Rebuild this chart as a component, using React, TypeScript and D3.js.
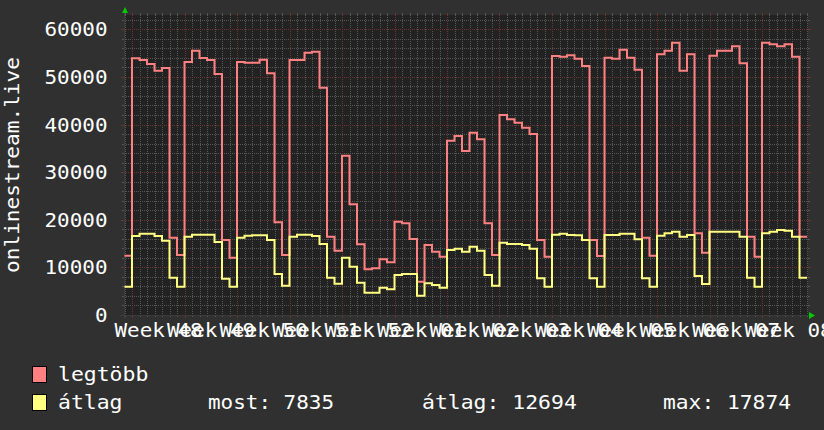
import React from "react";
import * as d3 from "d3";

// daily values, starting Sunday 2022-11-27 (day -1) through Sunday 2023-02-26
const maxValues = [
  12450,
  53900, 53550, 52700, 51310, 51870, 16240, 12600,
  53130, 55510, 53970, 53550, 50610, 15750, 12040,
  53130, 52990, 52990, 53620, 50750, 19460, 12600,
  53550, 53550, 55090, 55300, 47740, 16450, 13510,
  33460, 23240, 14840, 9590, 9800, 11690, 11060,
  19600, 19250, 15960, 7000, 14700, 13300, 12250,
  36610, 37590, 34440, 38290, 36890, 19250, 12600,
  42000, 41090, 40390, 39340, 38010, 15750, 12250,
  54390, 54250, 54530, 53830, 52290, 15750, 12390,
  54040, 53830, 55720, 54040, 51520, 16240, 12460,
  54740, 55510, 57190, 51310, 54740, 17150, 13090,
  54460, 55510, 55510, 56420, 52850, 16450, 12250,
  57190, 56840, 56420, 56840, 54250, 16450,
];
const avgValues = [
  5950,
  16590, 17080, 17080, 16590, 15610, 7840, 5950,
  16450, 16870, 16870, 16870, 15330, 7630, 5950,
  16240, 16660, 16730, 16730, 15750, 8610, 6160,
  16450, 16870, 16870, 16590, 14910, 7840, 6580,
  12040, 10150, 6790, 4690, 4690, 5740, 5390,
  8400, 8610, 8610, 4060, 6650, 6300, 5740,
  13650, 13930, 13300, 14350, 13510, 8400, 6160,
  15190, 14910, 14910, 14700, 13930, 7700, 5950,
  16870, 17080, 16800, 16730, 15750, 7700, 5950,
  16800, 16800, 17080, 17080, 15890, 7700, 5950,
  16660, 17150, 17500, 16450, 16800, 8190, 6510,
  17500, 17500, 17500, 17500, 16450, 7840, 5950,
  17150, 17500, 17874, 17710, 16450, 7835,
];
const yTicks = [0, 10000, 20000, 30000, 40000, 50000, 60000];
const yTickLabels = ["0", "10000", "20000", "30000", "40000", "50000", "60000"];
const weekLabels = [
  "Week 48", "Week 49", "Week 50", "Week 51", "Week 52", "Week 01", "Week 02",
  "Week 03", "Week 04", "Week 05", "Week 06", "Week 07", "Week 08",
];
const seriesNames = ["legtöbb", "átlag"];
const gprintLabels = ["most: 7835", "átlag: 12694", "max: 17874"];

const W = 824, H = 430;
const L = 124, R = 808, T = 15, B = 315;
const DAY = 86400000;
const MON = Date.UTC(2022, 10, 28);
const START = new Date(MON - (8 / 7.5) * DAY);
const END = new Date(MON + (676 / 7.5) * DAY);

const FONT = "'DejaVu Sans Mono', monospace";
const FS = 19.5;

export default function App() {
  const x = d3.scaleUtc().domain([START, END]).range([L, R]);
  const y = d3.scaleLinear().domain([0, 63000]).range([B, T]);

  const mk = (vals: number[]) => {
    const pts: [Date, number][] = vals.map((v, i) => [new Date(MON + (i - 1) * DAY), v]);
    pts.push([new Date(MON + (vals.length - 1) * DAY), vals[vals.length - 1]]);
    return pts;
  };
  const line = d3
    .line<[Date, number]>()
    .x((d) => x(d[0]))
    .y((d) => y(d[1]))
    .curve(d3.curveStepAfter);

  const dayLines = d3.utcDay.range(d3.utcDay.ceil(START), END);
  const weekLines = d3.utcMonday.range(d3.utcMonday.ceil(START), END);
  const minorY = d3.range(0, 63000, 2000).filter((v) => v % 10000 !== 0);

  const px = (v: number) => Math.round(v) + 0.5;
  const minorCol = "#565656";
  const majorCol = "#6e3434";

  const txt = (s: string, tx: number, ty: number, cw: number, key: string) => (
    <text
      key={key}
      x={tx}
      y={ty}
      fill="#ffffff"
      fontFamily={FONT}
      fontSize={FS}
      textLength={s.length * cw}
      lengthAdjust="spacingAndGlyphs"
    >
      {s}
    </text>
  );

  return (
    <svg
      width={W}
      height={H}
      style={{ position: "absolute", left: 0, top: 0, display: "block" }}
    >
      <defs>
        <clipPath id="plotclip">
          <rect x={L} y={T - 2} width={R - L} height={B - T + 3} />
        </clipPath>
      </defs>
      <rect x={0} y={0} width={W} height={H} fill="#303030" />
      <rect x={L} y={T} width={R - L} height={B - T} fill="#222222" />

      {/* minor grid */}
      {dayLines.map((d, i) => (
        <g key={"dv" + i}>
          <line x1={px(x(d))} x2={px(x(d))} y1={T} y2={B} stroke={minorCol} strokeDasharray="1,1" />
          <line x1={px(x(d))} x2={px(x(d))} y1={T - 2} y2={T} stroke={minorCol} />
          <line x1={px(x(d))} x2={px(x(d))} y1={B} y2={B + 2} stroke={minorCol} />
        </g>
      ))}
      {minorY.map((v, i) => (
        <g key={"hv" + i}>
          <line x1={L} x2={R} y1={px(y(v))} y2={px(y(v))} stroke={minorCol} strokeDasharray="1,1" />
          <line x1={L - 2} x2={L} y1={px(y(v))} y2={px(y(v))} stroke={minorCol} />
          <line x1={R} x2={R + 2} y1={px(y(v))} y2={px(y(v))} stroke={minorCol} />
        </g>
      ))}
      {/* major grid */}
      {weekLines.map((d, i) => (
        <g key={"wv" + i}>
          <line x1={px(x(d))} x2={px(x(d))} y1={T} y2={B} stroke={majorCol} strokeDasharray="1,1" />
          <line x1={px(x(d))} x2={px(x(d))} y1={T - 2} y2={T} stroke={majorCol} />
          <line x1={px(x(d))} x2={px(x(d))} y1={B} y2={B + 3} stroke={majorCol} />
        </g>
      ))}
      {yTicks.map((v, i) =>
        v === 0 ? null : (
          <g key={"mh" + i}>
            <line x1={L} x2={R} y1={px(y(v))} y2={px(y(v))} stroke={majorCol} strokeDasharray="1,1" />
            <line x1={L - 3} x2={L} y1={px(y(v))} y2={px(y(v))} stroke={majorCol} />
            <line x1={R} x2={R + 3} y1={px(y(v))} y2={px(y(v))} stroke={majorCol} />
          </g>
        )
      )}

      {/* axes */}
      <line x1={L - 4} x2={R + 4} y1={B + 0.5} y2={B + 0.5} stroke="#3c3c3c" />
      <line x1={L + 0.5} x2={L + 0.5} y1={B + 4} y2={T - 4} stroke="#3c3c3c" />
      <path d={`M${L - 2},${T - 2} L${L + 1},${T - 8} L${L + 4},${T - 2} Z`} fill="#00cc00" />
      <path d={`M${R + 1},${B - 3} L${R + 7},${B + 0.5} L${R + 1},${B + 4} Z`} fill="#00cc00" />

      {/* series */}
      <g clipPath="url(#plotclip)">
        <path d={line(mk(maxValues)) || ""} fill="none" stroke="#ff8080" strokeWidth={2} />
        <path d={line(mk(avgValues)) || ""} fill="none" stroke="#ffff80" strokeWidth={2} />
      </g>

      {/* y tick labels */}
      {yTicks.map((v, i) => {
        const s = yTickLabels[i];
        return txt(s, 107.5 - s.length * 12.6, y(v) + 7, 12.6, "yl" + i);
      })}

      {/* x labels */}
      {weekLines.map((d, i) => {
        const s = weekLabels[i];
        if (!s) return null;
        const cx = x(d) + 26.6;
        return txt(s, cx - (s.length * 12.6) / 2, 337, 12.6, "xl" + i);
      })}

      {/* y title */}
      <text
        transform={`translate(19,${(T + B) / 2}) rotate(-90)`}
        textAnchor="middle"
        fill="#ffffff"
        fontFamily={FONT}
        fontSize={FS}
        textLength={17 * 12.7}
        lengthAdjust="spacingAndGlyphs"
      >
        onlinestream.live
      </text>

      {/* legend */}
      <rect x={32.5} y={366.5} width={14} height={16} fill="#ff8080" stroke="#000" />
      <rect x={32.5} y={394.5} width={14} height={16} fill="#ffff80" stroke="#000" />
      {txt(seriesNames[0], 58, 381, 12.9, "s0")}
      {txt(seriesNames[1], 58, 409, 12.9, "s1")}
      {gprintLabels.map((s, i) => txt(s, [208, 422, 663][i], 409, [12.6, 12.9, 12.8][i], "gp" + i))}
    </svg>
  );
}
